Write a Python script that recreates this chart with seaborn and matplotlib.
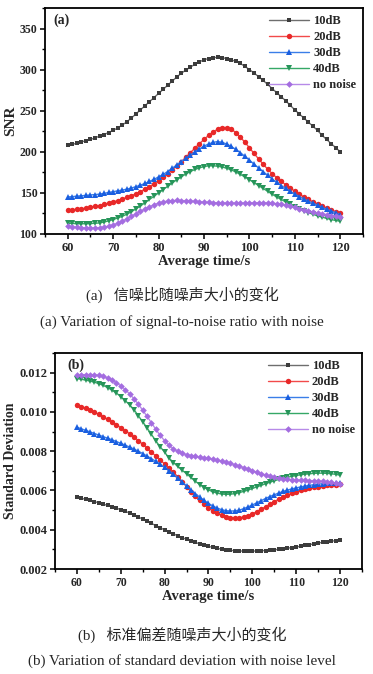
import numpy as np
import pandas as pd
import matplotlib
matplotlib.use("Agg")
import matplotlib.pyplot as plt
import seaborn as sns
from matplotlib.ticker import MultipleLocator

# --- data (one point per second, 60..120 s) ---
time_s = list(range(60, 121))
labels = ["10dB", "20dB", "30dB", "40dB", "no noise"]

snr_10db = [208, 209, 210.5, 212, 213.5, 215, 217, 219, 221, 223.5,
            226, 229, 232.5, 236.5, 241, 246, 251, 256, 261, 266,
            271, 276, 281, 286, 291, 295.5, 299.5, 303, 306.5, 309.5,
            312, 313.5, 314.5, 315, 314.5, 313.5, 312, 310, 307.5, 304,
            300, 296, 291.5, 287, 282, 277, 272, 267, 262, 256.5,
            251, 246, 241, 236, 231, 226, 220, 215, 210, 205, 200]
snr_20db = [129, 129.5, 130, 130.5, 131.5, 132.5, 133.5, 134.5, 136, 137.5,
            139, 140.5, 142.5, 144.5, 146.5, 149, 151.5, 154.5, 157.5, 161,
            165, 169, 173.5, 178, 183, 188, 193.5, 199, 204.5, 210,
            215, 220, 224, 227.5, 229.5, 229.5, 227.5, 223.5, 218, 211.5,
            205, 198, 191.5, 185, 179, 173.5, 168.5, 164, 160, 156,
            152, 148.5, 145, 142, 139, 136.5, 134, 131.5, 129.5, 127, 125]
snr_30db = [145, 145.5, 146, 146.5, 147, 147.5, 148, 148.5, 149.5, 150.5,
            151.5, 152.5, 153.5, 154.5, 156, 157.5, 159.5, 161.5, 164, 166.5,
            169.5, 172.5, 176, 180, 184, 188, 192, 196, 200, 203.5,
            207, 209.5, 211.5, 212.5, 211.5, 209.5, 206.5, 203, 199, 194.5,
            190, 185, 180.5, 176, 171.5, 167, 163, 159, 155.5, 152,
            148.5, 145.5, 142.5, 140, 137.5, 135, 132.5, 130, 128, 126, 123]
snr_40db = [113, 112.8, 112.6, 112.5, 112.5, 112.7, 113, 113.5, 114.5, 116,
            117.5, 119.5, 121.5, 124, 127, 130.5, 134, 138, 142, 146,
            150, 154, 158, 162, 166, 169.5, 173, 176, 178.5, 180.5,
            182, 183, 183, 182.5, 181.5, 180, 178, 175.5, 172.5, 169.5,
            166, 162.5, 159, 155.5, 152, 148.5, 145, 142, 139, 136,
            133, 130.5, 128, 126, 124, 122, 120.5, 119, 117.5, 116.5, 115.5]
snr_none = [109.5, 108.8, 108.2, 107.8, 107.5, 107.4, 107.5, 107.8, 108.5, 109.5,
            111, 113, 115.5, 118.5, 121.5, 124.5, 127.5, 130.5, 133, 135.5,
            137.5, 139, 140, 140.6, 140.8, 140.7, 140.4, 140, 139.6, 139.2,
            138.8, 138.5, 138.2, 138, 137.8, 137.7, 137.6, 137.6, 137.6, 137.7,
            137.8, 137.9, 138, 138, 137.8, 137.4, 136.8, 136, 135, 133.8,
            132.5, 131, 129.5, 128, 126.8, 125.5, 124.5, 123.5, 122.5, 121.8, 121]

std_10db = [.00565, .00560, .00555, .00549, .00543, .00537, .00530, .00524, .00517, .00510,
            .00502, .00494, .00485, .00475, .00465, .00454, .00443, .00432, .00421, .00410,
            .00399, .00389, .00379, .00369, .00360, .00351, .00343, .00335, .00328, .00321,
            .00315, .00310, .00305, .00301, .00298, .00295, .00293, .00292, .00291, .00291,
            .00291, .00292, .00293, .00294, .00296, .00298, .00300, .00303, .00306, .00309,
            .00312, .00316, .00320, .00324, .00328, .00332, .00336, .00339, .00342, .00344, .00346]
std_20db = [.01036, .01027, .01018, .01008, .00998, .00987, .00975, .00962, .00949, .00935,
            .00920, .00905, .00889, .00872, .00854, .00835, .00815, .00795, .00775, .00755,
            .00735, .00714, .00693, .00670, .00645, .00619, .00594, .00570, .00549, .00530,
            .00512, .00497, .00484, .00474, .00466, .00461, .00459, .00460, .00465, .00472,
            .00481, .00492, .00504, .00517, .00530, .00543, .00555, .00566, .00576, .00585,
            .00593, .00600, .00606, .00611, .00616, .00620, .00623, .00626, .00628, .00630, .00631]
std_30db = [.00922, .00914, .00906, .00898, .00890, .00882, .00874, .00866, .00858, .00849,
            .00840, .00831, .00821, .00811, .00800, .00788, .00775, .00762, .00748, .00733,
            .00717, .00700, .00682, .00663, .00643, .00623, .00603, .00584, .00566, .00549,
            .00534, .00521, .00510, .00502, .00497, .00495, .00496, .00500, .00507, .00516,
            .00526, .00537, .00548, .00559, .00569, .00578, .00587, .00595, .00602, .00608,
            .00613, .00618, .00622, .00626, .00629, .00632, .00634, .00636, .00638, .00639, .00640]
std_40db = [.01170, .01166, .01162, .01157, .01151, .01144, .01135, .01124, .01111, .01096,
            .01078, .01058, .01036, .01012, .00980, .00950, .00918, .00885, .00852, .00822,
            .00795, .00765, .00742, .00722, .00703, .00685, .00666, .00647, .00630, .00615,
            .00603, .00593, .00586, .00582, .00580, .00581, .00584, .00589, .00595, .00602,
            .00610, .00618, .00626, .00634, .00642, .00649, .00656, .00662, .00667, .00672,
            .00676, .00680, .00683, .00685, .00687, .00688, .00688, .00687, .00685, .00682, .00678]
std_none = [.01187, .01189, .01190, .01190, .01189, .01186, .01181, .01173, .01162, .01149,
            .01133, .01114, .01092, .01067, .01039, .01009, .00977, .00944, .00911, .00880,
            .00853, .00830, .00812, .00799, .00789, .00782, .00777, .00773, .00769, .00766,
            .00763, .00759, .00755, .00750, .00744, .00738, .00731, .00724, .00716, .00708,
            .00700, .00693, .00686, .00679, .00673, .00668, .00664, .00660, .00657, .00655,
            .00653, .00652, .00651, .00650, .00649, .00648, .00646, .00644, .00641, .00638, .00635]

snr_series = [snr_10db, snr_20db, snr_30db, snr_40db, snr_none]
std_series = [std_10db, std_20db, std_30db, std_40db, std_none]

# styles
line_colors = ["#6e6e6e", "#f24a4a", "#3a7ee8", "#35a866", "#b78ae8"]
marker_colors = ["#3c3c3c", "#e82828", "#1a5fe0", "#27955a", "#a46de0"]
markers = ["s", "o", "^", "v", "D"]
msizes = [2.4, 3.9, 3.9, 3.9, 3.4]

sns.set_theme(style="ticks")
plt.rcParams["font.family"] = ["Liberation Serif", "Noto Sans CJK SC"]
plt.rcParams["font.weight"] = "bold"
plt.rcParams["xtick.direction"] = "out"
plt.rcParams["ytick.direction"] = "out"

fig = plt.figure(figsize=(3.73, 6.74), dpi=100)
W, H = 373, 674
ax_a = fig.add_axes([45 / W, 1 - 234 / H, 318 / W, 226 / H])
ax_b = fig.add_axes([55 / W, 1 - 569 / H, 307 / W, 216 / H])


def draw_panel(ax, series, xsize, ysize):
    for vals, lab, lc, mc, mk, ms in zip(series, labels, line_colors,
                                         marker_colors, markers, msizes):
        df = pd.DataFrame({"t": time_s, "v": vals})
        sns.lineplot(data=df, x="t", y="v", ax=ax, color=lc, linewidth=1.0,
                     marker=mk, markersize=ms, markerfacecolor=mc,
                     markeredgewidth=0, label=lab)
    ax.set_xlim(55, 125)
    ax.xaxis.set_major_locator(MultipleLocator(10))
    ax.xaxis.set_minor_locator(MultipleLocator(5))
    for s in ax.spines.values():
        s.set_linewidth(1.3)
        s.set_color("black")
    ax.tick_params(which="major", length=3.5, width=1.1, pad=2, color="black")
    ax.tick_params(axis="x", labelsize=xsize)
    ax.tick_params(axis="y", labelsize=ysize)
    ax.tick_params(which="minor", length=2, width=1.0, color="black")
    ax.set_xlabel("Average time/s", fontsize=10.5, fontweight="bold", labelpad=1)
    leg = ax.legend(loc="upper right", frameon=False, fontsize=9,
                    handlelength=3.2, handletextpad=0.3, labelspacing=0.32,
                    borderaxespad=0.15)
    for t in leg.get_texts():
        t.set_fontweight("bold")


draw_panel(ax_a, snr_series, 9, 8.5)
ax_a.set_ylim(100, 375)
ax_a.yaxis.set_major_locator(MultipleLocator(50))
ax_a.yaxis.set_minor_locator(MultipleLocator(25))
ax_a.set_ylabel("SNR", fontsize=11, fontweight="bold", labelpad=2)
ax_a.text(0.025, 0.975, "(a)", transform=ax_a.transAxes, fontsize=10,
          fontweight="bold", va="top", ha="left")

draw_panel(ax_b, std_series, 8.5, 9)
ax_b.set_ylim(0.002, 0.013)
ax_b.yaxis.set_major_locator(MultipleLocator(0.002))
ax_b.yaxis.set_minor_locator(MultipleLocator(0.001))
ax_b.set_ylabel("Standard Deviation", fontsize=10, fontweight="bold", labelpad=2)
ax_b.text(0.04, 0.975, "(b)", transform=ax_b.transAxes, fontsize=10,
          fontweight="bold", va="top", ha="left")
for t in (ax_a.get_xticklabels() + ax_a.get_yticklabels()
          + ax_b.get_xticklabels() + ax_b.get_yticklabels()):
    t.set_fontweight("bold")

cap_font = ["Liberation Serif", "Noto Sans CJK SC"]
fig.text(182 / W, 1 - 295 / H, "(a)   信噪比随噪声大小的变化", ha="center", va="center",
         fontsize=10.8, family=cap_font, fontweight="normal")
fig.text(182 / W, 1 - 322 / H, "(a) Variation of signal-to-noise ratio with noise",
         ha="center", va="center", fontsize=10.9, family=cap_font, fontweight="normal")
fig.text(182 / W, 1 - 635 / H, "(b)   标准偏差随噪声大小的变化", ha="center", va="center",
         fontsize=10.8, family=cap_font, fontweight="normal")
fig.text(182 / W, 1 - 661 / H, "(b) Variation of standard deviation with noise level",
         ha="center", va="center", fontsize=10.9, family=cap_font, fontweight="normal")

fig.savefig("out.png", dpi=100, facecolor="white")
